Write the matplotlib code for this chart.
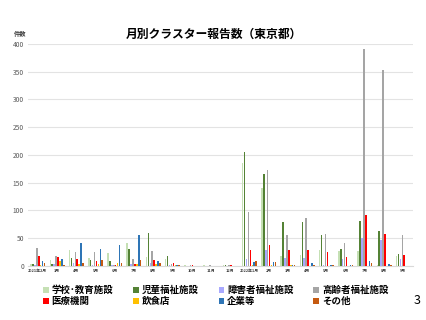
import matplotlib
matplotlib.use('Agg')
import matplotlib.pyplot as plt
import numpy as np

plt.rcParams['font.family'] = ['Noto Sans CJK JP', 'DejaVu Sans']

# Data
months = ['2021年2月', '3月', '4月', '5月', '6月', '7月', '8月', '9月', '10月', '11月', '12月',
          '2022年1月', '2月', '3月', '4月', '5月', '6月', '7月', '8月', '9月']
school     = [4, 11, 28, 14, 23, 41, 16, 13, 2, 1, 2, 186, 141, 17, 20, 28, 27, 26, 1, 17]
child      = [3, 3, 14, 11, 9, 30, 60, 18, 0, 0, 1, 206, 166, 79, 80, 55, 30, 81, 62, 21]
disability = [1, 3, 5, 2, 2, 3, 6, 1, 0, 0, 0, 12, 29, 14, 15, 2, 12, 50, 47, 12]
elderly    = [32, 17, 25, 25, 2, 13, 26, 4, 1, 2, 2, 97, 172, 56, 86, 57, 41, 391, 352, 56]
medical    = [17, 16, 12, 9, 2, 4, 11, 5, 2, 0, 1, 29, 37, 29, 28, 25, 16, 92, 57, 20]
restaurant = [2, 9, 3, 4, 5, 4, 4, 1, 0, 0, 0, 1, 1, 1, 0, 0, 0, 0, 0, 0]
company    = [9, 13, 41, 31, 38, 55, 8, 1, 0, 0, 0, 7, 7, 2, 5, 2, 2, 9, 4, 0]
other      = [5, 2, 5, 10, 5, 11, 5, 1, 0, 0, 0, 8, 7, 1, 1, 1, 2, 6, 2, 0]

series = [
    ('学校･教育施設', school, '#c5e0b4'),
    ('児童福祉施設', child, '#548235'),
    ('障害者福祉施設', disability, '#a9a9ff'),
    ('高齢者福祉施設', elderly, '#a5a5a5'),
    ('医療機関', medical, '#ff0000'),
    ('飲食店', restaurant, '#ffc000'),
    ('企業等', company, '#2e75b6'),
    ('その他', other, '#c55a11'),
]

fig = plt.figure(figsize=(4.27, 3.2), dpi=100)
ax = fig.add_axes([0.066, 0.169, 0.901, 0.694])

x = np.arange(len(months))
step = 0.1
width = 0.08
for i, (name, vals, color) in enumerate(series):
    ax.bar(x + (i - 3.5) * step, vals, width, color=color, label=name, zorder=3)

ax.set_xlim(-0.5, len(months) - 0.5)
ax.set_ylim(0, 400)
ax.set_yticks(range(0, 401, 50))
ax.yaxis.grid(True, color='#e3e3e3', linewidth=0.8, zorder=0)
ax.set_xticks(x)
ax.set_xticklabels(months, fontsize=2.8, fontweight='bold', color='#404040')
ax.tick_params(axis='y', labelsize=4.8, colors='#595959', length=0, pad=3)
ax.tick_params(axis='x', length=0, pad=2)
for s in ['top', 'right', 'left']:
    ax.spines[s].set_visible(False)
ax.spines['bottom'].set_color('#d9d9d9')
ax.spines['bottom'].set_linewidth(0.8)

fig.text(0.5, 0.893, '月別クラスター報告数（東京都）', ha='center', va='center',
         fontsize=8.5, fontweight='bold')
fig.text(0.047, 0.895, '件数', ha='center', va='center', fontsize=4.5,
         fontweight='bold', color='#404040')
fig.text(0.985, 0.06, '3', ha='right', va='center', fontsize=9)

handles, labels = ax.get_legend_handles_labels()
order = [0, 4, 1, 5, 2, 6, 3, 7]
fig.legend([handles[i] for i in order], [labels[i] for i in order],
           loc='lower left', bbox_to_anchor=(0.088, 0.025), ncol=4, frameon=False,
           prop={'size': 6.8, 'weight': 'bold'}, handlelength=0.6, handleheight=0.6,
           handletextpad=0.3, columnspacing=2.1, labelspacing=0.15, borderpad=0.1)

fig.savefig('out.png', dpi=100)
